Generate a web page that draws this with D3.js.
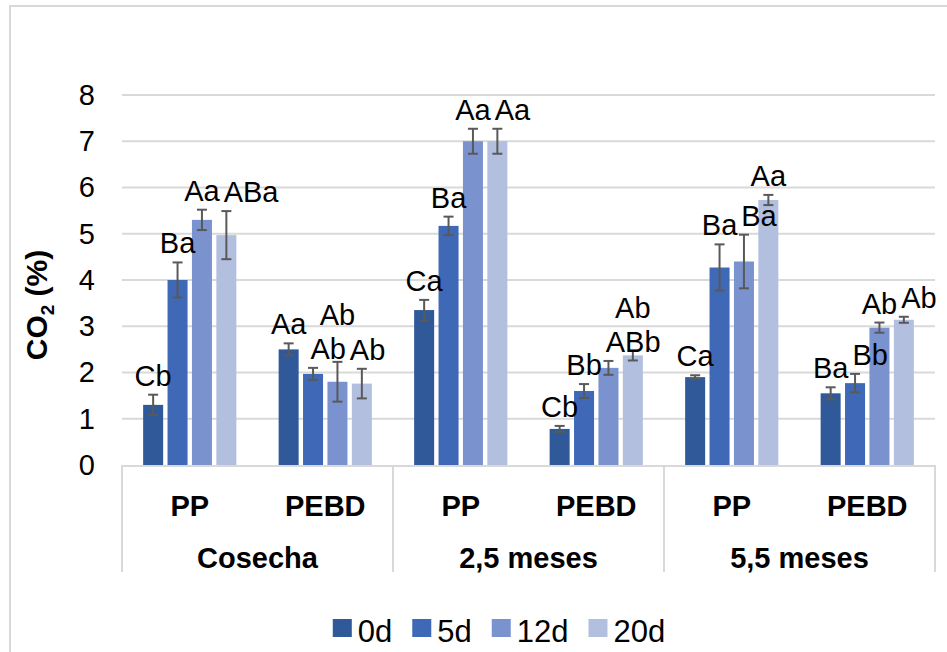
<!DOCTYPE html>
<html>
<head>
<meta charset="utf-8">
<script src="https://cdn.jsdelivr.net/npm/d3@7"></script>
<style>
  body { margin: 0; background: #fff; }
  text { font-family: Arial, "Liberation Sans", sans-serif; fill: #000; }
</style>
</head>
<body>
<div id="chart"></div>
<script>
var groups = ['Cosecha', '2,5 meses', '5,5 meses']
var films = ['PP', 'PEBD']
var days = ['0d', '5d', '12d', '20d']
var yTicks = [0, 1, 2, 3, 4, 5, 6, 7, 8]

// one value per group/film pair: Cosecha PP, Cosecha PEBD, 2,5 PP, 2,5 PEBD, 5,5 PP, 5,5 PEBD
var co2_0d = [1.3, 2.5, 3.35, 0.78, 1.9, 1.55]
var co2_5d = [4.0, 1.97, 5.17, 1.6, 4.27, 1.77]
var co2_12d = [5.3, 1.8, 7.0, 2.1, 4.4, 2.97]
var co2_20d = [4.97, 1.76, 7.0, 2.37, 5.73, 3.14]

var err_0d = [0.22, 0.13, 0.22, 0.065, 0.04, 0.13]
var err_5d = [0.38, 0.13, 0.2, 0.15, 0.5, 0.2]
var err_12d = [0.22, 0.43, 0.27, 0.15, 0.58, 0.11]
var err_20d = [0.52, 0.32, 0.27, 0.11, 0.11, 0.065]

var lab_0d = ['Cb', 'Aa', 'Ca', 'Cb', 'Ca', 'Ba']
var lab_5d = ['Ba', 'Ab', 'Ba', 'Bb', 'Ba', 'Bb']
var lab_12d = ['Aa', 'Ab', 'Aa', 'ABb', 'Ba', 'Ab']
var lab_20d = ['ABa', 'Ab', 'Aa', 'Ab', 'Aa', 'Ab']

var colors = ['#30599a', '#3f69b6', '#7a92ce', '#b2bfdf']

var width = 947
var height = 652
var margin = { left: 122, right: 12, top: 95, bottom: 187 }
var fontSize = 29
var gridColor = '#d9d9d9'

function go () {
  var values = [co2_0d, co2_5d, co2_12d, co2_20d]
  var errors = [err_0d, err_5d, err_12d, err_20d]
  var letters = [lab_0d, lab_5d, lab_12d, lab_20d]

  var cells = []
  groups.forEach(function(g) {
    films.forEach(function(f) { cells.push(g + '|' + f) })
  })

  var bars = []
  cells.forEach(function(c, ci) {
    days.forEach(function(d, si) {
      bars.push({ cell: c, day: d, si: si, v: values[si][ci], e: errors[si][ci], label: letters[si][ci] })
    })
  })

  var svg = d3.select('#chart').append('svg').attr('width', width).attr('height', height)

  svg.append('rect')
    .attr('x', 10).attr('y', 6)
    .attr('width', width + 20).attr('height', height + 20)
    .style('fill', 'none').style('stroke', gridColor).style('stroke-width', 2)

  var x0 = d3.scaleBand().domain(cells).range([margin.left, width - margin.right])
  var x1 = d3.scaleBand().domain(days).range([0, x0.bandwidth()])
    .paddingInner(0.18).paddingOuter(0.866)
  var y = d3.scaleLinear().domain([0, 8]).range([height - margin.bottom, margin.top])

  var gx = d3.scaleBand().domain(groups).range([margin.left, width - margin.right])

  // gridlines
  svg.append('g').selectAll('line')
    .data(yTicks.slice(1))
    .enter().append('line')
    .attr('x1', margin.left).attr('x2', width - margin.right)
    .attr('y1', function(d) { return y(d) }).attr('y2', function(d) { return y(d) })
    .style('stroke', gridColor).style('stroke-width', 2)

  var yAxis = svg.append('g')
    .attr('transform', 'translate(' + (margin.left - 27) + ',0)')
    .call(d3.axisLeft(y).tickValues(yTicks).tickSize(0).tickPadding(0))
  yAxis.select('.domain').remove()
  yAxis.selectAll('text').style('font-size', fontSize + 'px').style('font-family', 'Arial, "Liberation Sans", sans-serif')

  svg.append('text')
    .attr('transform', 'translate(47,305) rotate(-90)')
    .attr('text-anchor', 'middle')
    .style('font-size', '30px').style('font-weight', 'bold')
    .html('CO<tspan font-size="19px" dy="7">2</tspan><tspan dy="-7"> (%)</tspan>')

  // bars
  svg.append('g').selectAll('rect')
    .data(bars)
    .enter().append('rect')
    .attr('x', function(d) { return x0(d.cell) + x1(d.day) })
    .attr('width', x1.bandwidth())
    .attr('y', function(d) { return y(d.v) })
    .attr('height', function(d) { return y(0) - y(d.v) })
    .style('fill', function(d) { return colors[d.si] })

  // error bars
  var eb = svg.append('g').selectAll('g')
    .data(bars)
    .enter().append('g')
    .style('stroke', '#595959').style('stroke-width', 2)
  var cx = function(d) { return x0(d.cell) + x1(d.day) + x1.bandwidth() / 2 }
  eb.append('line')
    .attr('x1', cx).attr('x2', cx)
    .attr('y1', function(d) { return y(d.v - d.e) }).attr('y2', function(d) { return y(d.v + d.e) })
  eb.append('line')
    .attr('x1', function(d) { return cx(d) - 5 }).attr('x2', function(d) { return cx(d) + 5 })
    .attr('y1', function(d) { return y(d.v + d.e) }).attr('y2', function(d) { return y(d.v + d.e) })
  eb.append('line')
    .attr('x1', function(d) { return cx(d) - 5 }).attr('x2', function(d) { return cx(d) + 5 })
    .attr('y1', function(d) { return y(d.v - d.e) }).attr('y2', function(d) { return y(d.v - d.e) })

  // letter labels, nudged right or up when they would run into an earlier one
  var asc = fontSize * 0.9
  var desc = fontSize * 0.2
  var placed = []
  var labels = svg.append('g').selectAll('text')
    .data(bars)
    .enter().append('text')
    .attr('text-anchor', 'middle')
    .style('font-size', fontSize + 'px')
    .text(function(d) { return d.label })

  labels.each(function(d) {
    var w = this.getComputedTextLength()
    var box = { x: cx(d) - w / 2, w: w, base: y(d.v + d.e) - 9 }
    var tries = 0
    var hit = true
    while (hit && tries < 12) {
      hit = false
      for (var i = 0; i < placed.length; i++) {
        var p = placed[i]
        var ox = Math.min(box.x + box.w, p.x + p.w) - Math.max(box.x, p.x)
        var oy = Math.min(box.base + desc, p.base + desc) - Math.max(box.base - asc, p.base - asc)
        if (ox > -2 && oy > 0) {
          if (ox <= box.w * 0.6 && box.x > p.x) box.x = p.x + p.w + 4
          else box.base = p.base - asc - desc - 2
          hit = true
          break
        }
      }
      tries++
    }
    placed.push(box)
    d3.select(this).attr('x', box.x + box.w / 2).attr('y', box.base)
  })

  // category axis
  var axisY = y(0)
  svg.append('line')
    .attr('x1', margin.left).attr('x2', width - margin.right)
    .attr('y1', axisY + 1).attr('y2', axisY + 1)
    .style('stroke', gridColor).style('stroke-width', 2)

  var seps = groups.map(function(g) { return gx(g) }).concat([gx(groups[groups.length - 1]) + gx.bandwidth()])
  svg.append('g').selectAll('line')
    .data(seps)
    .enter().append('line')
    .attr('x1', function(d) { return d }).attr('x2', function(d) { return d })
    .attr('y1', axisY).attr('y2', axisY + 107)
    .style('stroke', gridColor).style('stroke-width', 2)

  svg.append('g').selectAll('text')
    .data(cells)
    .enter().append('text')
    .attr('x', function(d) { return x0(d) + x0.bandwidth() / 2 })
    .attr('y', axisY + 51)
    .attr('text-anchor', 'middle')
    .style('font-size', fontSize + 'px').style('font-weight', 'bold')
    .text(function(d) { return d.split('|')[1] })

  svg.append('g').selectAll('text')
    .data(groups)
    .enter().append('text')
    .attr('x', function(d) { return gx(d) + gx.bandwidth() / 2 })
    .attr('y', axisY + 103)
    .attr('text-anchor', 'middle')
    .style('font-size', fontSize + 'px').style('font-weight', 'bold')
    .text(function(d) { return d })

  // legend
  var legend = svg.append('g')
  var sw = 19
  var lx = 0
  days.forEach(function(d, i) {
    var item = legend.append('g').attr('transform', 'translate(' + lx + ',0)')
    item.append('rect').attr('x', 0).attr('y', 619).attr('width', sw).attr('height', 18)
      .style('fill', colors[i])
    var t = item.append('text').attr('x', sw + 6).attr('y', 642)
      .style('font-size', '31px').text(d)
    lx += sw + 6 + t.node().getComputedTextLength() + 20
  })
  var legendW = lx - 20
  legend.attr('transform', 'translate(' + (499 - legendW / 2) + ',0)')
}

document.addEventListener('DOMContentLoaded', go)
</script>
</body>
</html>
